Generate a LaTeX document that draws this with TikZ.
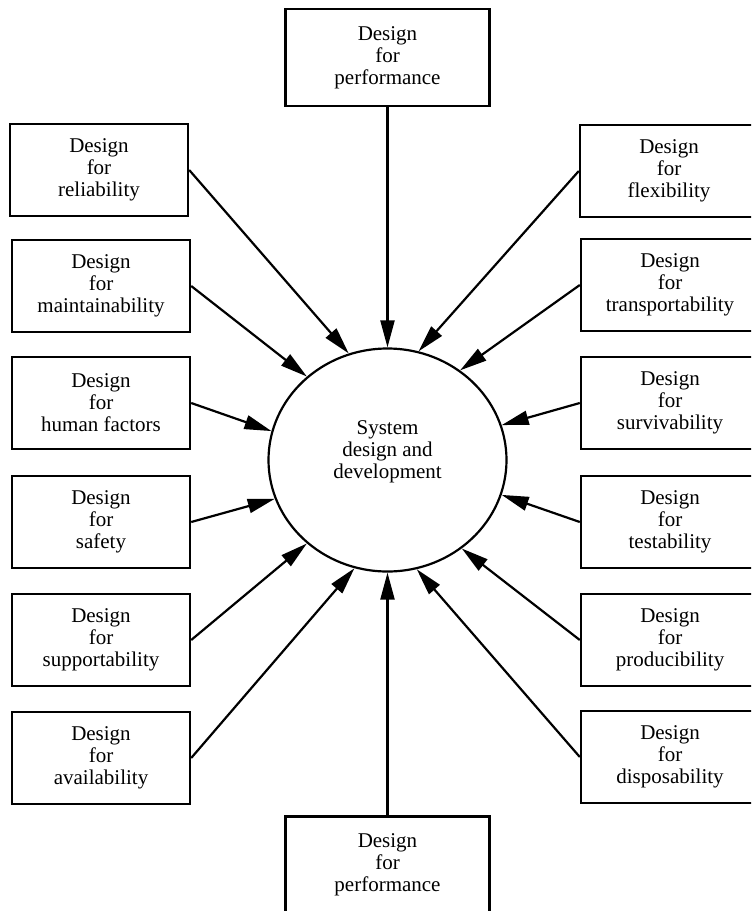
\documentclass[tikz,border=0pt]{standalone}
\usepackage{fontspec}
\setmainfont{Liberation Serif}
\usetikzlibrary{shapes.geometric,arrows.meta}

\tikzset{
  dbox/.style={draw, line width=1.2pt, minimum width=89pt, minimum height=46pt,
    inner sep=0pt, align=center, font=\fontsize{10.5}{11}\selectfont},
  darrow/.style={line width=1.1pt, -{Triangle[length=13.5pt,width=7pt]}},
}

\begin{document}
\begin{tikzpicture}[x=0.5pt,y=-0.5pt]
      \useasboundingbox (0,0) rectangle (751,911);
      \clip (0,0) rectangle (751,911);
      % centre
      \node[ellipse, draw, line width=1.1pt, minimum width=119pt, minimum height=111.5pt,
        inner sep=0pt, text depth=10pt, align=center, font=\fontsize{10.5}{11}\selectfont] (sys) at (387.5,460) {System\\design and\\development};
      % top and bottom
      \node[dbox, minimum width=102pt, minimum height=48.5pt] (perftop) at (387.5,57.5) {Design\\for\\performance};
      \node[dbox, minimum width=102pt, minimum height=48.5pt] (perfbot) at (387.5,865) {Design\\for\\performance};
      % left column
      \node[dbox] (rel) at (99,170) {Design\\for\\reliability};
      \node[dbox] (mai) at (101,286) {Design\\for\\maintainability};
      \node[dbox] (hum) at (101,403) {Design\\for\\human factors};
      \node[dbox] (saf) at (101,522) {Design\\for\\safety};
      \node[dbox] (sup) at (101,640) {Design\\for\\supportability};
      \node[dbox] (ava) at (101,758) {Design\\for\\availability};
      % right column
      \node[dbox] (fle) at (669,171) {Design\\for\\flexibility};
      \node[dbox] (tra) at (670,285) {Design\\for\\transportability};
      \node[dbox] (sur) at (670,403) {Design\\for\\survivability};
      \node[dbox] (tes) at (670,522) {Design\\for\\testability};
      \node[dbox] (pro) at (670,640) {Design\\for\\producibility};
      \node[dbox] (dis) at (670,757) {Design\\for\\disposability};
      % arrows
      \draw[darrow] (perftop.south) -- (sys.north);
      \draw[darrow] (perfbot.north) -- (sys.south);
      \draw[darrow] (rel.east) -- (sys.110);
      \draw[darrow] (mai.east) -- (sys.134);
      \draw[darrow] (hum.east) -- (sys.166);
      \draw[darrow] (saf.east) -- (sys.199);
      \draw[darrow] (sup.east) -- (sys.226);
      \draw[darrow] (ava.east) -- (sys.253);
      \draw[darrow] (fle.west) -- (sys.74);
      \draw[darrow] (tra.west) -- (sys.51);
      \draw[darrow] (sur.west) -- (sys.17);
      \draw[darrow] (tes.west) -- (sys.-17);
      \draw[darrow] (pro.west) -- (sys.-50);
      \draw[darrow] (dis.west) -- (sys.-75);
\end{tikzpicture}
\end{document}
